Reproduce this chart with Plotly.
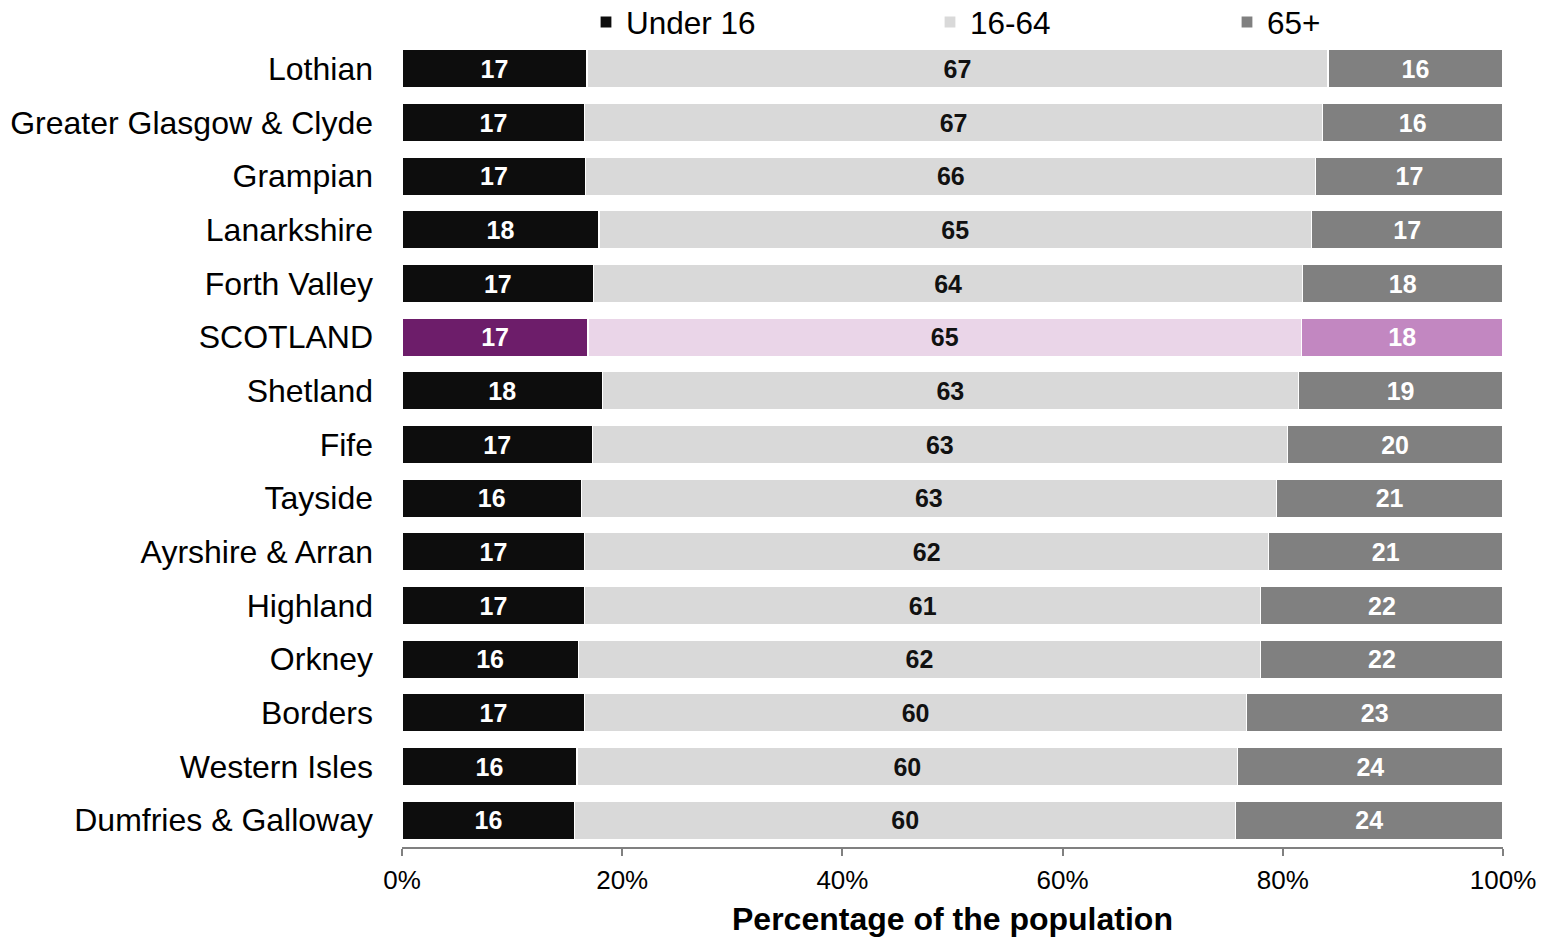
import plotly.graph_objects as go

regions = ["Lothian", "Greater Glasgow & Clyde", "Grampian", "Lanarkshire", "Forth Valley",
           "SCOTLAND", "Shetland", "Fife", "Tayside", "Ayrshire & Arran", "Highland",
           "Orkney", "Borders", "Western Isles", "Dumfries & Galloway"]
under16 = [16.8, 16.6, 16.7, 17.9, 17.4, 16.9, 18.2, 17.3, 16.3, 16.6, 16.6, 16.0, 16.6, 15.9, 15.7]
age16_64 = [67.3, 67.0, 66.3, 64.7, 64.4, 64.8, 63.2, 63.1, 63.1, 62.1, 61.4, 62.0, 60.1, 60.0, 60.0]
over65 = [15.9, 16.4, 17.0, 17.4, 18.2, 18.3, 18.6, 19.6, 20.6, 21.3, 22.0, 22.0, 23.3, 24.1, 24.3]
tick_vals = [0, 20, 40, 60, 80, 100]
tick_text = [f"{v}%" for v in tick_vals]
x_title = "Percentage of the population"

FONT = "Liberation Sans, Arial, sans-serif"
highlight = "SCOTLAND"
W, H = 1543, 930
ML, MR, MT, MB = 394, 48, 34, 91
PH = H - MT - MB

series = [
    ("Under 16", under16, "#0d0d0d", "#6d1d6a", "white", "legend"),
    ("16-64", age16_64, "#d9d9d9", "#ead5e8", "#111111", "legend2"),
    ("65+", over65, "#808080", "#c287c1", "white", "legend3"),
]

fig = go.Figure()
for name, vals, col, hcol, tcol, leg in series:
    colors = [hcol if r == highlight else col for r in regions]
    fig.add_trace(go.Bar(
        y=regions, x=vals, name=name, orientation="h",
        marker=dict(color=colors, line=dict(color="white", width=1.2)),
        texttemplate="%{x:.0f}", textposition="inside", insidetextanchor="middle",
        textangle=0,
        textfont=dict(family=FONT, size=25, color=tcol, weight="bold"),
        legend=leg, showlegend=True,
    ))

def leg(xpx):
    return dict(orientation="h", xref="container", yref="container",
                x=xpx / W, xanchor="left", y=1 - 14 / H, yanchor="middle",
                font=dict(size=31.5, family=FONT), bgcolor="rgba(0,0,0,0)")

fig.update_layout(
    barmode="stack",
    bargap=0.29,
    width=W, height=H,
    margin=dict(l=ML, r=MR, t=MT, b=MB, autoexpand=False),
    plot_bgcolor="white", paper_bgcolor="white",
    font=dict(family=FONT, color="black"),
    showlegend=True,
    uniformtext=dict(minsize=25, mode="show"),
    legend=leg(578),
    legend2=leg(922),
    legend3=leg(1219),
    xaxis=dict(range=[0, 100], tickmode="array", tickvals=tick_vals, ticktext=tick_text,
               ticks="outside", ticklen=7, tickcolor="#808080", tickwidth=1.5,
               showline=True, linecolor="#808080", linewidth=1.5,
               showgrid=False, zeroline=False, ticklabelstandoff=2,
               tickfont=dict(size=26, family=FONT)),
    yaxis=dict(autorange="reversed", showgrid=False, showline=False, ticks="",
               tickfont=dict(size=32, family=FONT), ticklabelstandoff=28),
    annotations=[dict(text=x_title, xref="paper", yref="paper", x=0.5, y=-72 / PH,
                      xanchor="center", yanchor="middle", showarrow=False,
                      font=dict(size=32, family=FONT, weight="bold", color="black"))],
)

fig.write_html("out.html")
